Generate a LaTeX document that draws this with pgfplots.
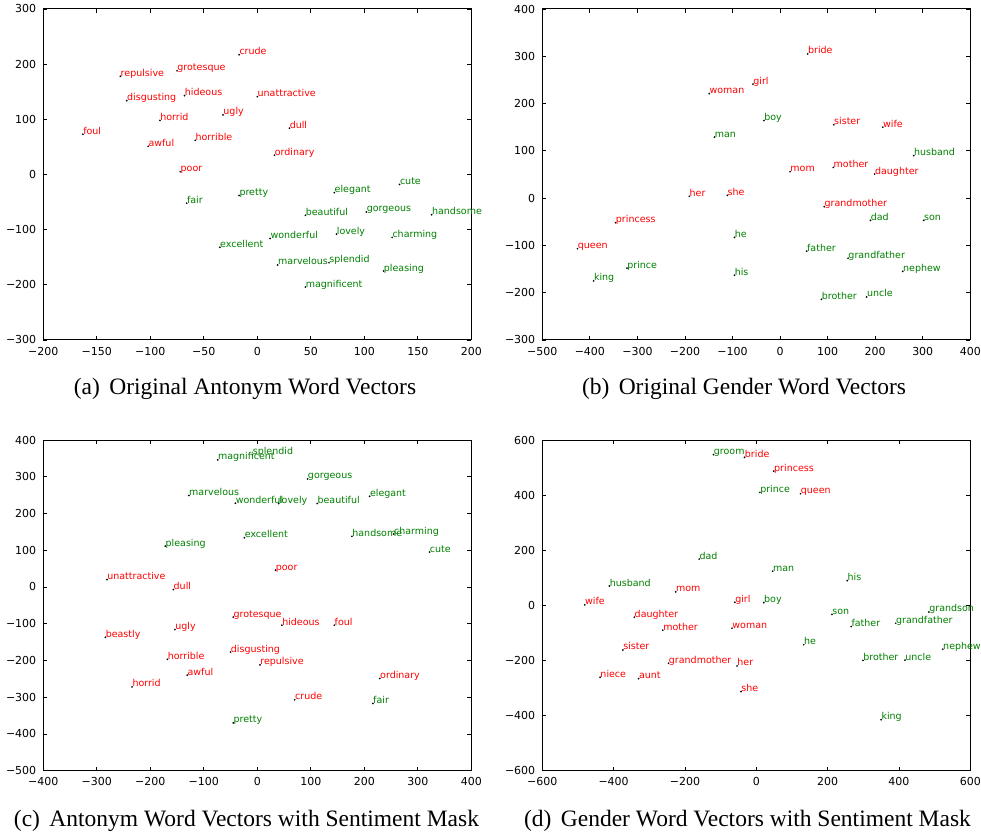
\documentclass[border=0pt]{standalone}
\usepackage{pgfplots}
\pgfplotsset{compat=1.18}
\usepackage{fontspec}
\setmainfont{Liberation Serif}
\newfontfamily\dejavu{DejaVu Sans}
\definecolor{mplred}{RGB}{255,0,0}
\definecolor{mplgreen}{RGB}{0,128,0}

\pgfplotsset{
  mpl/.style={
    scale only axis, anchor=south west,
    width=214pt, height=165.5pt,
    axis line style={line width=0.5pt},
    tick align=inside, tick pos=both, major tick length=2pt,
    tick style={line width=0.4pt, black},
    ticklabel style={font=\dejavu\fontsize{5.5}{6}\selectfont},
    clip=false,
  },
  words/.style={
    only marks, mark=*, mark size=0.2pt,
    mark options={draw=none, fill=blue!40!gray!60},
    nodes near coords, point meta=explicit symbolic,
    nodes near coords style={anchor=base west, inner sep=0pt,
      font=\dejavu\fontsize{4.75}{5}\selectfont, text=#1},
  },
}

\begin{document}
\begin{tikzpicture}
\useasboundingbox (0,0) rectangle (490.5pt,417pt);

% (a) original antonym vectors
\begin{axis}[mpl, at={(21.65pt,247pt)},
    xmin=-200, xmax=200, ymin=-300, ymax=300,
    xtick={-200,-150,-100,-50,0,50,100,150,200},
    xticklabels={−200,−150,−100,−50,0,50,100,150,200},
    ytick={-300,-200,-100,0,100,200,300},
    yticklabels={−300,−200,−100,0,100,200,300}]
\addplot[words=mplred] table[meta=w] {
x y w
-17 217 crude
-128 178 repulsive
-75 188 grotesque
-122 134 disgusting
-68 143 hideous
0 141 unattractive
-91 98 horrid
-32 108 ugly
-163 73 foul
30 84 dull
-102 51 awful
-58 62 horrible
16 35 ordinary
-72 5 poor
};
\addplot[words=mplgreen] table[meta=w] {
x y w
133 -18 cute
72 -33 elegant
-17 -38 pretty
-66 -52 fair
45 -74 beautiful
102 -68 gorgeous
163 -73 handsome
74 -108 lovely
12 -116 wonderful
126 -114 charming
-35 -132 excellent
19 -164 marvelous
67 -160 splendid
118 -175 pleasing
45 -204 magnificent
};
\end{axis}

% (b) original gender vectors
\begin{axis}[mpl, at={(271.15pt,247pt)},
    xmin=-500, xmax=400, ymin=-300, ymax=400,
    xtick={-500,-400,-300,-200,-100,0,100,200,300,400},
    xticklabels={−500,−400,−300,−200,−100,0,100,200,300,400},
    ytick={-300,-200,-100,0,100,200,300,400},
    yticklabels={−300,−200,−100,0,100,200,300,400}]
\addplot[words=mplred] table[meta=w] {
x y w
58 305 bride
-57 241 girl
-149 221 woman
113 155 sister
216 150 wife
21 56 mom
112 65 mother
199 51 daughter
-191 4 her
-111 6 she
93 -18 grandmother
-346 -52 princess
-426 -107 queen
};
\addplot[words=mplgreen] table[meta=w] {
x y w
-34 164 boy
-138 129 man
281 90 husband
190 -47 dad
302 -47 son
-96 -83 he
56 -112 father
143 -127 grandfather
258 -155 nephew
-322 -148 prince
-392 -175 king
-96 -163 his
87 -214 brother
182 -209 uncle
};
\end{axis}

% (c) antonym vectors with sentiment mask
\begin{axis}[mpl, at={(21.65pt,31.65pt)}, height=165.35pt,
    xmin=-400, xmax=400, ymin=-500, ymax=400,
    xtick={-400,-300,-200,-100,0,100,200,300,400},
    xticklabels={−400,−300,−200,−100,0,100,200,300,400},
    ytick={-500,-400,-300,-200,-100,0,100,200,300,400},
    yticklabels={−500,−400,−300,−200,−100,0,100,200,300,400}]
\addplot[words=mplgreen] table[meta=w] {
x y w
-9 360 splendid
-74 346 magnificent
94 294 gorgeous
-128 249 marvelous
-41 228 wonderful
40 227 lovely
112 227 beautiful
210 247 elegant
177 138 handsome
255 144 charming
-24 134 excellent
-172 111 pleasing
322 95 cute
216 -317 fair
-45 -370 pretty
};
\addplot[words=mplred] table[meta=w] {
x y w
34 46 poor
-281 20 unattractive
-157 -7 dull
-45 -82 grotesque
46 -104 hideous
144 -104 foul
-154 -116 ugly
-284 -137 beastly
-50 -177 disgusting
-168 -197 horrible
5 -212 repulsive
-131 -240 awful
-234 -272 horrid
229 -249 ordinary
70 -307 crude
};
\end{axis}

% (d) gender vectors with sentiment mask
\begin{axis}[mpl, at={(271.15pt,31.65pt)}, height=165.35pt,
    xmin=-600, xmax=600, ymin=-600, ymax=600,
    xtick={-600,-400,-200,0,200,400,600},
    xticklabels={−600,−400,−200,0,200,400,600},
    ytick={-600,-400,-200,0,200,400,600},
    yticklabels={−600,−400,−200,0,200,400,600}]
\addplot[words=mplgreen] table[meta=w] {
x y w
-120 547 groom
10 410 prince
-160 168 dad
46 124 man
255 90 his
-412 70 husband
21 10 boy
212 -33 son
484 -24 grandson
266 -77 father
391 -65 grandfather
133 -143 he
523 -159 nephew
299 -200 brother
417 -199 uncle
350 -415 king
};
\addplot[words=mplred] table[meta=w] {
x y w
-33 537 bride
49 487 princess
124 405 queen
-226 49 mom
-481 2 wife
-60 11 girl
-342 -43 daughter
-262 -90 mother
-68 -83 woman
-374 -162 sister
-246 -210 grandmother
-54 -220 her
-438 -261 niece
-330 -266 aunt
-43 -313 she
};
\end{axis}

\begin{scope}[every node/.style={inner sep=0pt, anchor=base, font=\fontsize{11.75}{14}\selectfont}]
\node at (122.5pt,219.65pt) {(a)\hspace{0.4em}Original Antonym Word Vectors};
\node at (372pt,219.65pt) {(b)\hspace{0.4em}Original Gender Word Vectors};
\node at (123.25pt,3.65pt) {(c)\hspace{0.4em}Antonym Word Vectors with Sentiment Mask};
\node at (373.75pt,3.65pt) {(d)\hspace{0.4em}Gender Word Vectors with Sentiment Mask};
\end{scope}
\end{tikzpicture}
\end{document}
